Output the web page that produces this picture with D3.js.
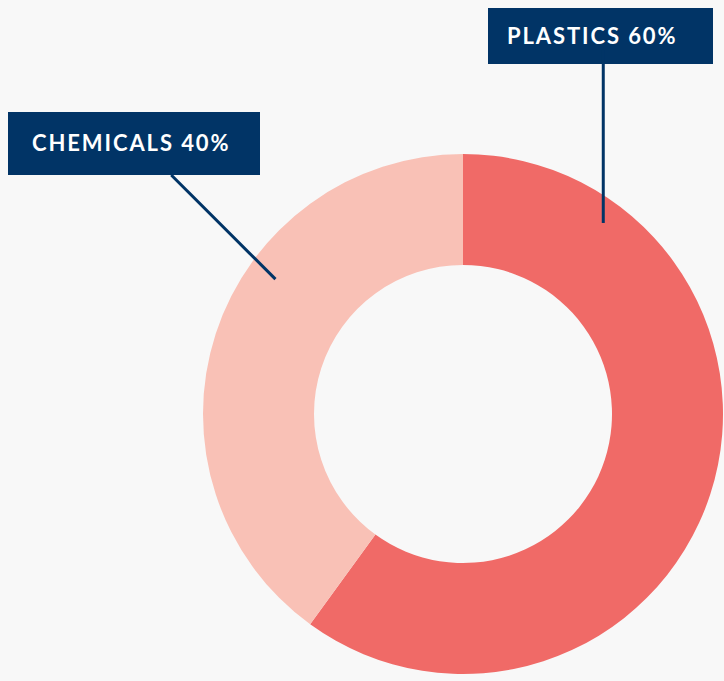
<!DOCTYPE html>
<html>
<head>
<meta charset="utf-8">
<script src="https://cdn.jsdelivr.net/npm/d3@7"></script>
<style>
  html, body { margin: 0; padding: 0; background: #f8f8f8; }
  svg { display: block; }
</style>
</head>
<body>
<div id="chart"></div>
<script>
/* DATA */
const categories = ["PLASTICS", "CHEMICALS"];
const shares = [60, 40];
const colors = ["#f06a67", "#f9c1b6"];
// where each leader line touches its slice: fraction along the slice, radius
const labelFractions = [0.168, 0.623];
const labelRadii = [237, 231];

/* CONSTANTS */
const width = 724,
      height = 681,
      cx = 463,
      cy = 414,
      outerR = 260,
      innerR = 149,
      navy = "#013466";

// label boxes (annotation layout)
const boxes = [
  {x: 488, y: 8, w: 225, h: 56, tx: 507, lineFrom: "vertical"},
  {x: 8, y: 112, w: 252, h: 63, tx: 32, lineFrom: "diagonal"}
];

const data = categories.map((c, i) => ({name: c, value: shares[i], color: colors[i]}));

const svg = d3.select("#chart")
  .append("svg")
    .attr("width", width)
    .attr("height", height);

svg.append("rect")
  .attr("width", width)
  .attr("height", height)
  .attr("fill", "#f8f8f8");

const pie = d3.pie().sort(null).value(d => d.value);
const arc = d3.arc().innerRadius(innerR).outerRadius(outerR);
const arcs = pie(data);

const g = svg.append("g")
  .attr("transform", `translate(${cx},${cy})`);

g.selectAll("path")
  .data(arcs)
  .join("path")
    .attr("d", arc)
    .attr("fill", d => d.data.color);

/* LABELS */
arcs.forEach((a, i) => {
  const ang = a.startAngle + (a.endAngle - a.startAngle) * labelFractions[i];
  const px = cx + labelRadii[i] * Math.sin(ang),
        py = cy - labelRadii[i] * Math.cos(ang);
  const b = boxes[i];

  svg.append("rect")
    .attr("x", b.x)
    .attr("y", b.y)
    .attr("width", b.w)
    .attr("height", b.h)
    .attr("fill", navy);

  let x0, y0;
  if (b.lineFrom === "vertical") {
    x0 = px; y0 = b.y + b.h - 14;
  } else {
    // 45 degree line up-left to box bottom edge
    y0 = b.y + b.h;
    x0 = px - (py - y0);
  }
  svg.append("line")
    .attr("x1", x0).attr("y1", y0)
    .attr("x2", px).attr("y2", py)
    .attr("stroke", navy)
    .attr("stroke-width", 3);

  svg.append("text")
    .attr("x", b.tx)
    .attr("y", b.y + b.h / 2)
    .attr("dy", "0.36em")
    .attr("fill", "#ffffff")
    .style("font-family", "Lato, 'Open Sans', sans-serif")
    .style("font-weight", "700")
    .style("font-size", "22px")
    .style("letter-spacing", "1.9px")
    .text(`${a.data.name} ${a.data.value}%`);
});
</script>
</body>
</html>
